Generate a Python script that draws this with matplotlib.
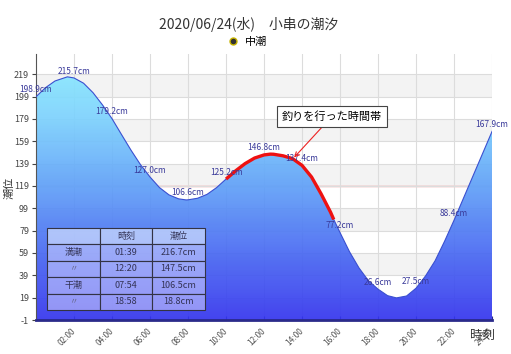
import numpy as np
import matplotlib
matplotlib.use('Agg')
import matplotlib.pyplot as plt
from matplotlib.colors import LinearSegmentedColormap
from matplotlib.lines import Line2D

plt.rcParams['font.family'] = ['Noto Sans CJK JP', 'DejaVu Sans']

# tide level (cm), time in hours
hours = [0.0, 0.5, 1.0, 1.65, 2.0, 2.5, 3.0, 3.5, 4.0, 4.5, 5.0, 5.5, 6.0,
         6.5, 7.0, 7.5, 7.9, 8.0, 8.5, 9.0, 9.5, 10.0, 10.5, 11.0, 11.5, 12.0,
         12.333, 12.5, 13.0, 13.5, 14.0, 14.5, 15.0, 15.5, 15.667, 16.0, 16.5,
         17.0, 17.5, 18.0, 18.5, 18.967, 19.5, 20.0, 20.5, 21.0, 21.5, 22.0, 24.0]
level = [198.9, 207.0, 213.0, 216.7, 215.7, 211.0, 202.5, 191.5, 179.2, 165.0,
         151.0, 138.0, 127.0, 117.5, 111.0, 107.5, 106.5, 106.6, 108.0, 111.5,
         117.5, 125.2, 132.5, 139.0, 144.0, 146.8, 147.5, 147.4, 146.0, 143.5,
         137.4, 127.0, 112.0, 95.5, 89.0, 77.2, 60.0, 45.5, 34.0, 26.6, 20.8,
         18.8, 20.5, 27.5, 38.5, 52.0, 69.5, 88.4, 167.9]

label_hours = [0, 2, 4, 6, 8, 10, 12, 14, 16, 18, 20, 22, 24]
label_vals = [198.9, 215.7, 179.2, 127.0, 106.6, 125.2, 146.8, 137.4, 77.2,
              26.6, 27.5, 88.4, 167.9]

fish_start, fish_end = 10.0, 15.667
ref_level = 119

tbl_cols = ['', '時刻', '潮位']
tbl_rows = [['満潮', '01:39', '216.7cm'],
            ['〃', '12:20', '147.5cm'],
            ['干潮', '07:54', '106.5cm'],
            ['〃', '18:58', '18.8cm']]

yticks = [-1, 19, 39, 59, 79, 99, 119, 139, 159, 179, 199, 219]
xticks = list(range(2, 25, 2))
xlabels = ['%02d:00' % h for h in xticks]

fig = plt.figure(figsize=(5.11, 3.54), dpi=100)
ax = fig.add_axes([0.0705, 0.096, 0.8925, 0.751])
ymin, ymax = -1, 237
ax.set_xlim(0, 24)
ax.set_ylim(ymin, ymax)

# alternating bands
for i, y0 in enumerate(yticks[:-1]):
    if (len(yticks) - 2 - i) % 2 == 0:
        ax.axhspan(y0, y0 + 20, color='#f3f3f3', zorder=0, lw=0)

ax.set_xticks(xticks)
ax.set_xticklabels(xlabels, rotation=45, ha='right', va='center',
                   rotation_mode='anchor', fontsize=6, color='#555555')
ax.set_yticks(yticks)
ax.set_yticklabels([str(v) for v in yticks], fontsize=6.5, color='#444444')
ax.grid(True, color='#dcdcdc', lw=0.8, zorder=0.5)
ax.tick_params(axis='x', direction='in', length=3, color='#2a2a8a', pad=7)
ax.tick_params(axis='y', length=3, color='#444444', pad=2)

ax.axhline(ref_level, color='#e05050', lw=0.9, zorder=1)

# gradient fill under curve
cmap = LinearSegmentedColormap.from_list(
    'tide', ['#3434ee', '#4868f2', '#5f9ff8', '#7bd0fd', '#8cf0ff'])
poly = ax.fill_between(hours, level, ymin, color='none', lw=0)
grad = ax.imshow(np.linspace(0, 1, 256).reshape(-1, 1), cmap=cmap,
                 extent=[0, 24, ymin, ymax], aspect='auto', origin='lower',
                 alpha=0.92, zorder=2)
grad.set_clip_path(poly.get_paths()[0], transform=ax.transData)
ax.plot(hours, level, color='#3a4fd0', lw=0.8, zorder=3)

# fishing time
h = np.array(hours)
lv = np.array(level)
m = (h >= fish_start) & (h <= fish_end)
ax.plot(h[m], lv[m], color='#ee1111', lw=2.4, zorder=4, solid_capstyle='butt')

for x, v in zip(label_hours, label_vals):
    ax.annotate('%.1fcm' % v, (x, v), xytext=(0, 5), textcoords='offset points',
                ha='center', va='center', fontsize=6, color='#3a3a9a',
                zorder=5, annotation_clip=False)

ax.annotate('釣りを行った時間帯', xy=(13.58, 144.5), xytext=(15.58, 181.5),
            ha='center', va='center', fontsize=8, zorder=6,
            bbox=dict(boxstyle='square,pad=0.45', fc='white', ec='#444444', lw=0.8),
            arrowprops=dict(arrowstyle='->', color='#ee2222', lw=0.8,
                            shrinkA=0, shrinkB=0))

for s in ['top', 'right']:
    ax.spines[s].set_visible(False)
ax.spines['left'].set_color('#555555')
ax.spines['bottom'].set_color('#2a2a8a')
ax.spines['bottom'].set_linewidth(2)
ax.spines['bottom'].set_zorder(6)

# table
tb = ax.table(cellText=tbl_rows, colLabels=tbl_cols, cellLoc='center',
              bbox=[0.024, 0.038, 0.346, 0.308], zorder=7)
tb.auto_set_font_size(False)
for (r, c), cell in tb.get_celld().items():
    cell.set_edgecolor('#333344')
    cell.set_linewidth(0.8)
    cell.set_facecolor((0.9, 0.94, 1.0, 0.6) if r == 0 else (0.88, 0.88, 1.0, 0.5))
    txt = cell.get_text()
    txt.set_fontsize(6.5)
    txt.set_color('#333355')
    if txt.get_text() == '〃':
        txt.set_color('#666688')
        txt.set_fontsize(6)

fig.text(0.018, 0.47, '潮位', rotation=90, fontsize=8, ha='center', va='center',
         color='#333333')
fig.text(0.92, 0.052, '時刻', fontsize=9, ha='left', va='center', color='#333333')

fig.text(0.487, 0.932, '2020/06/24(水)　小串の潮汐', ha='center', va='center',
         fontsize=10, color='#333333')
moon = Line2D([], [], marker='o', ls='', markerfacecolor='#333333',
              markeredgecolor='#c8b400', markersize=5, label='中潮')
fig.legend(handles=[moon], loc='center', bbox_to_anchor=(0.478, 0.881),
           frameon=False, fontsize=8, handletextpad=0.1, borderpad=0)

fig.savefig('out.png', dpi=100)
